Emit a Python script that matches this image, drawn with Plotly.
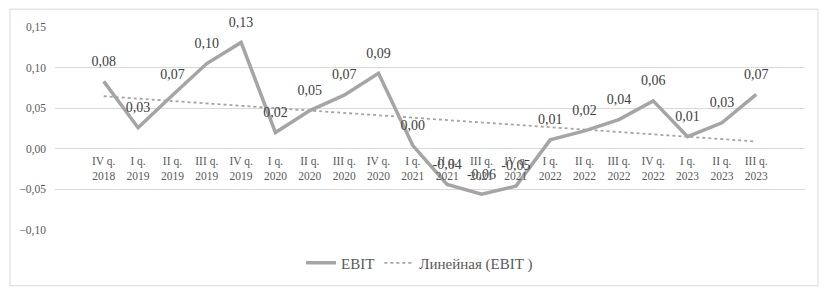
import numpy as np
import plotly.graph_objects as go

categories = ["IV q.<br>2018", "I q.<br>2019", "II q.<br>2019", "III q.<br>2019", "IV q.<br>2019",
              "I q.<br>2020", "II q.<br>2020", "III q.<br>2020", "IV q.<br>2020",
              "I q.<br>2021", "II q.<br>2021", "III q.<br>2021", "IV q.<br>2021",
              "I q.<br>2022", "II q.<br>2022", "III q.<br>2022", "IV q.<br>2022",
              "I q.<br>2023", "II q.<br>2023", "III q.<br>2023"]
ebit = [0.083, 0.026, 0.066, 0.105, 0.131, 0.020, 0.047, 0.066, 0.093, 0.004,
        -0.044, -0.056, -0.046, 0.011, 0.022, 0.036, 0.059, 0.015, 0.032, 0.067]
ytick_vals = [-0.10, -0.05, 0.00, 0.05, 0.10, 0.15]

idx = np.arange(len(ebit))
slope, intercept = np.polyfit(idx, ebit, 1)
trend = list(intercept + slope * idx)

labels = [f"{v:.2f}".replace(".", ",").replace("-0,00", "0,00") for v in ebit]

serif = "Liberation Serif"
fig = go.Figure()
fig.add_trace(go.Scatter(x=categories, y=ebit, mode="lines", name="EBIT",
                         line=dict(color="#a5a5a5", width=3.5)))
fig.add_trace(go.Scatter(x=categories, y=trend, mode="lines", name="Линейная (EBIT )",
                         line=dict(color="#a5a5a5", width=1.8, dash="dot")))
fig.add_trace(go.Scatter(x=categories, y=ebit, mode="markers+text", showlegend=False,
                         marker=dict(size=18, opacity=0, color="#a5a5a5"),
                         text=labels, textposition="top center",
                         textfont=dict(family=serif, size=14, color="#404040"),
                         hoverinfo="skip", cliponaxis=False))

fig.update_layout(
    width=820, height=282,
    margin=dict(l=47, r=23, t=19, b=59),
    paper_bgcolor="white", plot_bgcolor="white",
    separators=",.",
    font=dict(family=serif, color="#595959"),
    showlegend=True,
    legend=dict(orientation="h", x=0.486, xanchor="center", y=-0.157, yanchor="middle",
                font=dict(family=serif, size=15, color="#595959")),
    xaxis=dict(anchor="free", position=0.4, showgrid=False, showline=False, ticks="",
               tickfont=dict(family=serif, size=11.5, color="#595959"), tickangle=0,
               ticklabelstandoff=4),
    yaxis=dict(range=[-0.10, 0.15], tickvals=ytick_vals, tickformat=".2f",
               showgrid=True, gridcolor="#d9d9d9", gridwidth=1, zeroline=False,
               tickfont=dict(family=serif, size=11.5, color="#595959"), ticklabelstandoff=8),
    shapes=[dict(type="rect", xref="paper", yref="paper", x0=-0.06, x1=1.0173, y0=-0.2745, y1=1.088,
                 line=dict(color="#d9d9d9", width=1), fillcolor="rgba(0,0,0,0)", layer="below")],
)
fig.write_html("out.html")
